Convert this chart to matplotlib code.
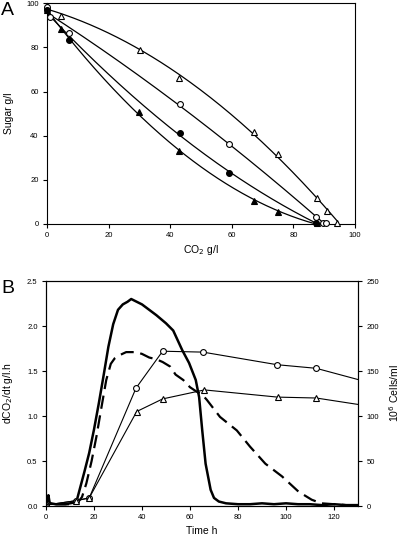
import numpy as np
import matplotlib
matplotlib.use("Agg")
import matplotlib.pyplot as plt

plt.rcParams['font.family'] = ['Liberation Sans', 'DejaVu Sans']
plt.rcParams['font.size'] = 5.5

# Panel A: sugar vs CO2
co2_otri = [0, 4.6, 30.2, 43, 67.2, 75, 87.5, 91, 94.3]
sug_otri = [98.6, 94.3, 78.7, 66.2, 41.6, 31.7, 11.9, 6, 0.5]
co2_ocirc = [0, 1, 7.1, 43.2, 59.1, 87.2, 89.5, 90.6]
sug_ocirc = [98.5, 93.8, 86.6, 54.3, 36.2, 3.1, 0.2, 0.2]
co2_fcirc = [0, 7.2, 43.2, 59.2, 87.2]
sug_fcirc = [97, 83.2, 41.2, 23, 0.5]
co2_ftri = [0, 4.4, 30, 42.8, 67.2, 75, 87.5]
sug_ftri = [97, 88.2, 50.8, 33, 10.4, 5.4, 0.6]

# Panel B: CO2 production rate (left axis)
t_solid = [0, 0.5, 1, 1.5, 2, 4, 6, 8, 10, 12, 13, 14, 16, 18, 20, 22, 24, 26, 28, 30,
           32, 34, 35.5, 37, 40, 43, 46, 50, 53, 56.8, 59.6, 62.4, 63.8, 65.1, 66.5,
           68.6, 70, 72, 75, 80, 85, 90, 95, 100, 105, 110, 115, 120, 125, 130]
r_solid = [0.02, 0.05, 0.12, 0.04, 0.03, 0.02, 0.02, 0.02, 0.03, 0.04, 0.08, 0.18,
           0.38, 0.59, 0.85, 1.14, 1.45, 1.77, 2.02, 2.18, 2.24, 2.27, 2.3, 2.28, 2.24,
           2.18, 2.12, 2.03, 1.95, 1.73, 1.59, 1.4, 1.21, 0.84, 0.47, 0.18, 0.09, 0.05,
           0.03, 0.02, 0.02, 0.03, 0.02, 0.03, 0.02, 0.02, 0.01, 0.02, 0.01, 0.01]
t_dash = [4, 6, 10, 13, 15, 16.8, 19, 21, 23, 25.1, 27, 28.6, 31, 33.4, 37.5, 40, 43,
          46, 48.6, 51.7, 54, 57.2, 60, 62.8, 65, 67, 72.5, 79.5, 85, 91.4, 98.3, 105.2,
          110.7, 114.7, 120, 125, 130]
r_dash = [0.02, 0.02, 0.02, 0.03, 0.1, 0.25, 0.5, 0.77, 1.08, 1.4, 1.58, 1.64, 1.68,
          1.71, 1.71, 1.69, 1.65, 1.63, 1.6, 1.55, 1.46, 1.4, 1.32, 1.27, 1.24, 1.18,
          0.99, 0.84, 0.66, 0.47, 0.33, 0.16, 0.07, 0.03, 0.02, 0.01, 0.01]

# Panel B: cell counts (right axis)
t_cells_o = [0, 12.7, 18, 37.5, 48.6, 65.4, 96.3, 112.6, 137]
cells_o = [1, 6, 9, 131, 172, 171, 157, 153, 135.5]
t_cells_t = [0, 12.7, 18, 37.8, 48.6, 66, 96.5, 112.6, 137]
cells_t = [1, 6, 9, 105, 119, 129, 121, 120, 110]

fig = plt.figure(figsize=(4, 5.37), dpi=100)
axA = fig.add_axes([0.1175, 0.583, 0.77, 0.411])
axB = fig.add_axes([0.115, 0.0577, 0.78, 0.419])

mk = dict(ms=4.2, mec='black', mew=0.8, linestyle='none', clip_on=False, zorder=3)
series = [
    (co2_otri, sug_otri, '^', 'white'),
    (co2_ocirc, sug_ocirc, 'o', 'white'),
    (co2_fcirc, sug_fcirc, 'o', 'black'),
    (co2_ftri, sug_ftri, '^', 'black'),
]
for x, y, m, fc in series:
    coef = np.polyfit(x, y, 2)
    xs = np.linspace(0, max(x), 200)
    axA.plot(xs, np.polyval(coef, xs), color='black', lw=0.9)
    axA.plot(x, y, marker=m, mfc=fc, **mk)

axA.set_xlim(0, 100)
axA.set_ylim(0, 100)
axA.set_xticks(range(0, 101, 20))
axA.set_yticks(range(0, 101, 20))
axA.set_xlabel('CO$_2$ g/l', fontsize=7.5, labelpad=3)
axA.set_ylabel('Sugar g/l', fontsize=7.5, labelpad=9)
axA.tick_params(direction='out', length=3, width=0.8, pad=3)
fig.text(0.003, 0.997, 'A', fontsize=14, va='top', ha='left')

axB.plot(t_solid, r_solid, color='black', lw=1.8)
axB.plot(t_dash, r_dash, color='black', lw=1.6, dashes=(6, 3))
axB.set_xlim(0, 130)
axB.set_ylim(0, 2.5)
axB.set_xticks(range(0, 121, 20))
axB.set_yticks(np.arange(0, 2.51, 0.5))
axB.yaxis.set_major_formatter(matplotlib.ticker.FormatStrFormatter('%.1f'))
axB.set_xlabel('Time h', fontsize=7.5, labelpad=3)
axB.set_ylabel('dCO$_2$/dt g/l.h', fontsize=7.5, labelpad=9)
axB.tick_params(direction='out', length=3, width=0.8, pad=3)

axR = axB.twinx()
axR.plot(t_cells_o, cells_o, color='black', lw=0.8, marker='o', mfc='white',
         mec='black', mew=0.8, ms=4.2)
axR.plot(t_cells_t, cells_t, color='black', lw=0.8, marker='^', mfc='white',
         mec='black', mew=0.8, ms=4.2)
axR.set_xlim(0, 130)
axR.set_ylim(0, 250)
axR.set_yticks(range(0, 251, 50))
axR.set_ylabel('10$^6$ Cells/ml', fontsize=7.5, labelpad=6)
axR.tick_params(direction='out', length=3, width=0.8, pad=3)
fig.text(0.003, 0.478, 'B', fontsize=14, va='top', ha='left')

fig.savefig('out.png', dpi=100)
